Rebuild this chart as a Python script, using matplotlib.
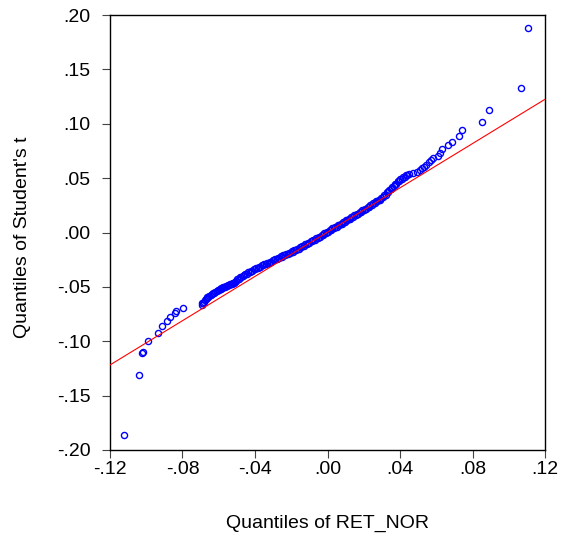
import matplotlib
matplotlib.use("Agg")
import matplotlib.pyplot as plt
from matplotlib.ticker import FuncFormatter

plt.rcParams['font.family'] = ['Liberation Sans', 'DejaVu Sans']

# quantile pairs (x = RET_NOR, y = Student's t)
lower_x = [-0.1123, -0.1038, -0.1025, -0.1020, -0.0992, -0.0935, -0.0915, -0.0884,
           -0.0867, -0.0840, -0.0838, -0.0796]
lower_y = [-0.1859, -0.1310, -0.1111, -0.1100, -0.0995, -0.0921, -0.0860, -0.0814,
           -0.0777, -0.0743, -0.0719, -0.0697]

left_x = [-0.0692, -0.0692, -0.0686, -0.0680, -0.0675, -0.0670, -0.0666, -0.0663,
          -0.0658, -0.0652, -0.0645, -0.0639, -0.0632, -0.0626, -0.0618, -0.0611,
          -0.0605, -0.0600, -0.0593, -0.0589, -0.0585, -0.0580, -0.0575, -0.0570,
          -0.0565, -0.0560, -0.0556, -0.0550, -0.0545, -0.0540, -0.0535, -0.0529,
          -0.0523, -0.0519, -0.0515, -0.0510]
left_y = [-0.0670, -0.0651, -0.0644, -0.0636, -0.0625, -0.0614, -0.0605, -0.0596,
          -0.0589, -0.0581, -0.0573, -0.0566, -0.0559, -0.0553, -0.0545, -0.0538,
          -0.0532, -0.0528, -0.0520, -0.0516, -0.0512, -0.0508, -0.0504, -0.0500,
          -0.0497, -0.0493, -0.0490, -0.0485, -0.0480, -0.0476, -0.0472, -0.0469,
          -0.0467, -0.0463, -0.0460, -0.0455]

mid_x = [-0.0505, -0.0490, -0.0475, -0.0460, -0.0445, -0.0430, -0.0415, -0.0400,
         -0.0385, -0.0370, -0.0355, -0.0340, -0.0325, -0.0310, -0.0295, -0.0280,
         -0.0265, -0.0250, -0.0235, -0.0220, -0.0205, -0.0190, -0.0175, -0.0160,
         -0.0145, -0.0130, -0.0115, -0.0100, -0.0085, -0.0070, -0.0055, -0.0040,
         -0.0025, -0.0010, 0.0005, 0.0020, 0.0035, 0.0050, 0.0065, 0.0080,
         0.0095, 0.0110, 0.0125, 0.0140, 0.0155, 0.0170, 0.0185, 0.0200,
         0.0215, 0.0230, 0.0245, 0.0260, 0.0275, 0.0290, 0.0305, 0.0320,
         0.0335, 0.0350, 0.0365, 0.0380, 0.0395, 0.0410, 0.0425, 0.0440]
mid_y = [-0.0443, -0.0428, -0.0412, -0.0395, -0.0380, -0.0367, -0.0353, -0.0340,
         -0.0327, -0.0314, -0.0302, -0.0291, -0.0280, -0.0269, -0.0257, -0.0246,
         -0.0234, -0.0222, -0.0210, -0.0199, -0.0188, -0.0176, -0.0163, -0.0150,
         -0.0137, -0.0123, -0.0109, -0.0095, -0.0081, -0.0066, -0.0052, -0.0038,
         -0.0022, -0.0007, 0.0008, 0.0022, 0.0037, 0.0052, 0.0067, 0.0081,
         0.0097, 0.0112, 0.0127, 0.0142, 0.0157, 0.0173, 0.0188, 0.0204,
         0.0220, 0.0236, 0.0252, 0.0269, 0.0286, 0.0303, 0.0323, 0.0347,
         0.0372, 0.0399, 0.0425, 0.0450, 0.0472, 0.0492, 0.0510, 0.0525]

# second pass over the dense band (upper edge of the band)
band_x = [-0.0498, -0.0483, -0.0468, -0.0453, -0.0438, -0.0423, -0.0408, -0.0393,
          -0.0378, -0.0363, -0.0348, -0.0333, -0.0318, -0.0303, -0.0288, -0.0273,
          -0.0258, -0.0243, -0.0228, -0.0213, -0.0198, -0.0183, -0.0168, -0.0153,
          -0.0138, -0.0123, -0.0108, -0.0093, -0.0078, -0.0063, -0.0048, -0.0033,
          -0.0018, -0.0003, 0.0012, 0.0027, 0.0042, 0.0057, 0.0072, 0.0087,
          0.0102, 0.0117, 0.0132, 0.0147, 0.0162, 0.0177, 0.0192, 0.0207,
          0.0222, 0.0237, 0.0252, 0.0267, 0.0282, 0.0297, 0.0312, 0.0327,
          0.0342, 0.0357, 0.0372, 0.0387, 0.0402, 0.0417, 0.0432]
band_y = [-0.0428, -0.0412, -0.0396, -0.0380, -0.0366, -0.0352, -0.0339, -0.0326,
          -0.0313, -0.0300, -0.0289, -0.0278, -0.0267, -0.0255, -0.0244, -0.0232,
          -0.0220, -0.0208, -0.0197, -0.0186, -0.0174, -0.0162, -0.0149, -0.0136,
          -0.0122, -0.0108, -0.0094, -0.0080, -0.0066, -0.0051, -0.0037, -0.0022,
          -0.0007, 0.0008, 0.0023, 0.0038, 0.0053, 0.0068, 0.0082, 0.0097,
          0.0113, 0.0128, 0.0143, 0.0158, 0.0173, 0.0189, 0.0204, 0.0220,
          0.0236, 0.0252, 0.0269, 0.0286, 0.0303, 0.0321, 0.0343, 0.0368,
          0.0394, 0.0420, 0.0446, 0.0469, 0.0490, 0.0509, 0.0526]

upper_x = [0.0452, 0.0474, 0.0496, 0.0510, 0.0523, 0.0532, 0.0541, 0.0562,
           0.0571, 0.0583, 0.0611, 0.0620, 0.0630, 0.0666, 0.0685, 0.0726,
           0.0744, 0.0852, 0.0889, 0.1066, 0.1108]
upper_y = [0.0538, 0.0550, 0.0559, 0.0575, 0.0590, 0.0605, 0.0621, 0.0646,
           0.0667, 0.0682, 0.0706, 0.0734, 0.0768, 0.0805, 0.0835, 0.0887,
           0.0943, 0.1019, 0.1127, 0.1332, 0.1883]

# reference line ends
line_x = [-0.12, 0.12]
line_y = [-0.1218, 0.1225]

x_ticks = [-0.12, -0.08, -0.04, 0.00, 0.04, 0.08, 0.12]
y_ticks = [-0.20, -0.15, -0.10, -0.05, 0.00, 0.05, 0.10, 0.15, 0.20]


def short_fmt(v, pos=None):
    s = "%.2f" % v
    if s == "-0.00":
        s = "0.00"
    return s.replace("0.", ".", 1)


fig = plt.figure(figsize=(5.67, 5.41), dpi=100)
ax = fig.add_axes([110 / 567, 91 / 541, 435 / 567, 435 / 541])

pts_x = lower_x + left_x + mid_x + band_x + upper_x
pts_y = lower_y + left_y + mid_y + band_y + upper_y

ax.plot(line_x, line_y, color='#ff0000', lw=0.8, zorder=3)
ax.plot(pts_x, pts_y, ls='none', marker='o', ms=4.4, mfc='none',
        mec='#0000ff', mew=1.0, zorder=2)

ax.set_xlim(-0.12, 0.12)
ax.set_ylim(-0.20, 0.20)
ax.set_xticks(x_ticks)
ax.set_yticks(y_ticks)
ax.xaxis.set_major_formatter(FuncFormatter(short_fmt))
ax.yaxis.set_major_formatter(FuncFormatter(short_fmt))
ax.tick_params(axis='both', direction='out', length=6, width=0.8,
               labelsize=14, color='#444444')
ax.tick_params(axis='x', pad=2)
ax.tick_params(axis='y', pad=8)
for sp in ax.spines.values():
    sp.set_linewidth(1.0)
    sp.set_color('black')

ax.set_xlabel("Quantiles of RET_NOR", fontsize=14)
ax.set_ylabel("Quantiles of Student's t", fontsize=14)
ax.xaxis.set_label_coords(0.5, -0.15)
ax.yaxis.set_label_coords(-0.182, 0.488)

fig.savefig("out.png", dpi=100)
